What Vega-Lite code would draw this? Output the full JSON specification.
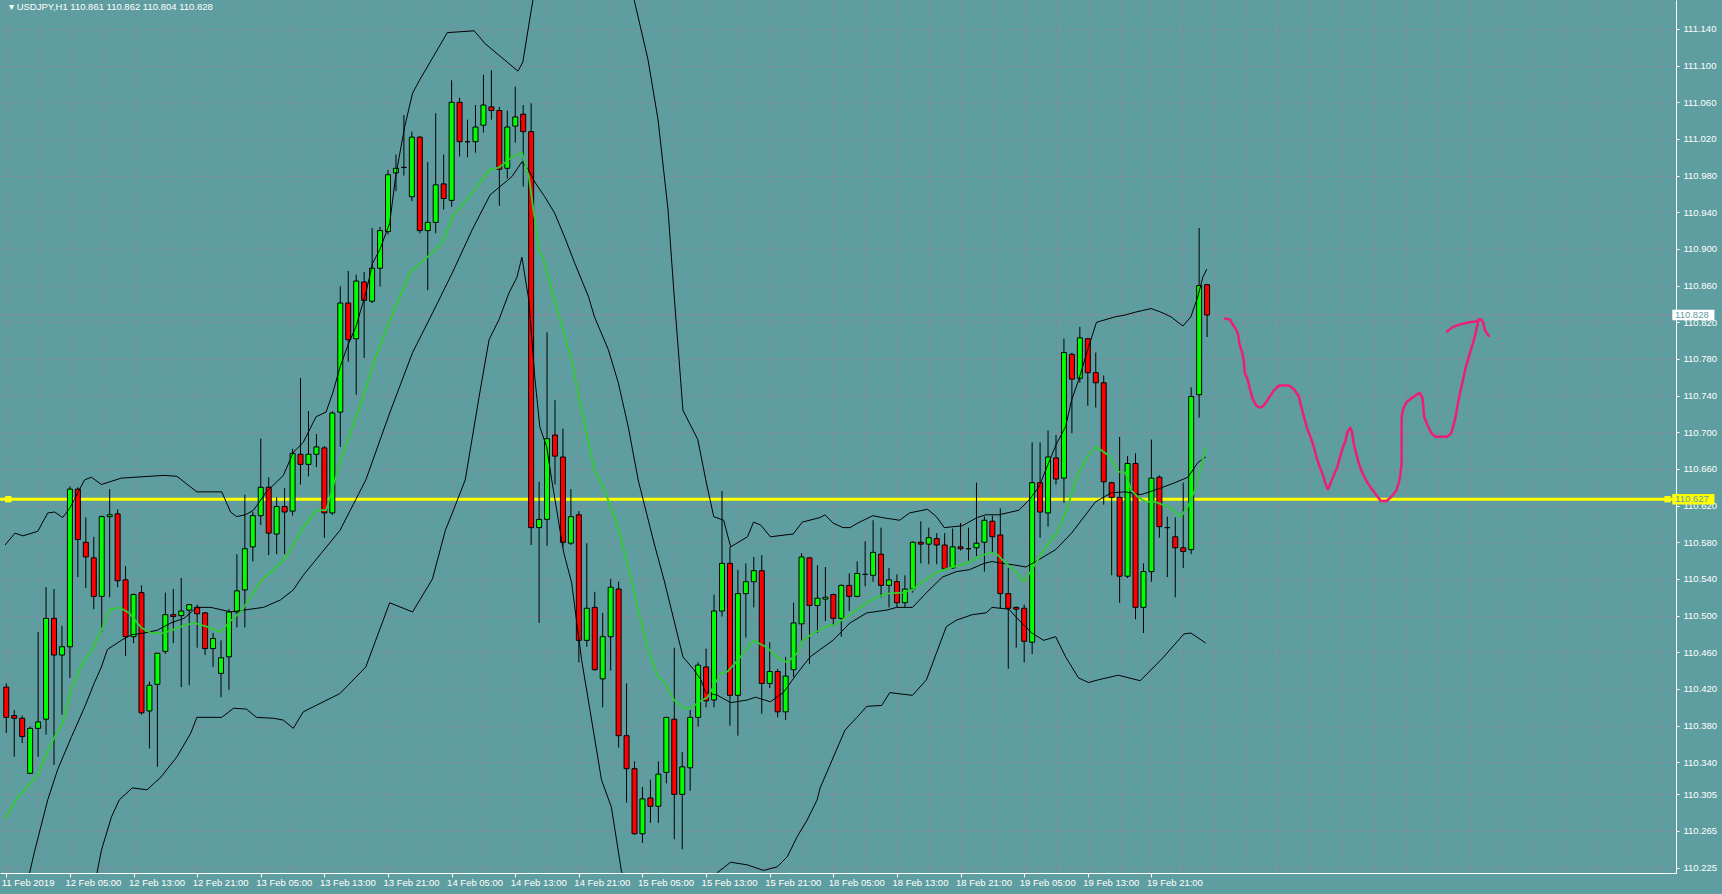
{
"$schema": "https://vega.github.io/schema/vega-lite/v6.json",
"width": 1676, "height": 873,
"autosize": {"type": "none"},
"padding": {"left": 0, "top": 0, "right": 46, "bottom": 21},
"background": "#5F9EA0",
"config": {"view": {"stroke": null}, "axis": {"labelFont": "Liberation Sans", "labelFontSize": 9.5, "labelColor": "#ffffff", "domainColor": "#ffffff", "tickColor": "#ffffff", "gridColor": "#868596", "gridDash": [3, 3], "gridWidth": 1}},
"resolve": {"axis": {"x": "independent", "y": "independent"}},
"datasets": {
"candles": [
{"i":0,"o":110.422,"h":110.426,"l":110.372,"c":110.389},
{"i":1,"o":110.391,"h":110.397,"l":110.346,"c":110.388},
{"i":2,"o":110.388,"h":110.391,"l":110.361,"c":110.368},
{"i":3,"o":110.328,"h":110.379,"l":110.327,"c":110.377},
{"i":4,"o":110.377,"h":110.482,"l":110.346,"c":110.384},
{"i":5,"o":110.387,"h":110.531,"l":110.370,"c":110.497},
{"i":6,"o":110.497,"h":110.529,"l":110.337,"c":110.457},
{"i":7,"o":110.457,"h":110.489,"l":110.392,"c":110.466},
{"i":8,"o":110.466,"h":110.641,"l":110.432,"c":110.638},
{"i":9,"o":110.638,"h":110.640,"l":110.542,"c":110.583},
{"i":10,"o":110.580,"h":110.607,"l":110.530,"c":110.564},
{"i":11,"o":110.563,"h":110.586,"l":110.507,"c":110.521},
{"i":12,"o":110.521,"h":110.609,"l":110.482,"c":110.608},
{"i":13,"o":110.608,"h":110.638,"l":110.520,"c":110.610},
{"i":14,"o":110.611,"h":110.616,"l":110.531,"c":110.538},
{"i":15,"o":110.539,"h":110.554,"l":110.456,"c":110.477},
{"i":16,"o":110.477,"h":110.524,"l":110.470,"c":110.523},
{"i":17,"o":110.525,"h":110.533,"l":110.392,"c":110.394},
{"i":18,"o":110.396,"h":110.428,"l":110.355,"c":110.424},
{"i":19,"o":110.425,"h":110.459,"l":110.335,"c":110.459},
{"i":20,"o":110.461,"h":110.525,"l":110.458,"c":110.501},
{"i":21,"o":110.501,"h":110.529,"l":110.470,"c":110.499},
{"i":22,"o":110.500,"h":110.541,"l":110.422,"c":110.505},
{"i":23,"o":110.506,"h":110.512,"l":110.424,"c":110.512},
{"i":24,"o":110.509,"h":110.512,"l":110.465,"c":110.502},
{"i":25,"o":110.503,"h":110.504,"l":110.457,"c":110.464},
{"i":26,"o":110.464,"h":110.481,"l":110.444,"c":110.475},
{"i":27,"o":110.437,"h":110.473,"l":110.411,"c":110.454},
{"i":28,"o":110.455,"h":110.507,"l":110.419,"c":110.504},
{"i":29,"o":110.504,"h":110.567,"l":110.487,"c":110.527},
{"i":30,"o":110.528,"h":110.632,"l":110.487,"c":110.573},
{"i":31,"o":110.575,"h":110.613,"l":110.559,"c":110.609},
{"i":32,"o":110.609,"h":110.693,"l":110.599,"c":110.640},
{"i":33,"o":110.640,"h":110.651,"l":110.566,"c":110.590},
{"i":34,"o":110.589,"h":110.629,"l":110.567,"c":110.619},
{"i":35,"o":110.619,"h":110.639,"l":110.567,"c":110.613},
{"i":36,"o":110.614,"h":110.682,"l":110.609,"c":110.677},
{"i":37,"o":110.676,"h":110.759,"l":110.643,"c":110.665},
{"i":38,"o":110.665,"h":110.723,"l":110.652,"c":110.676},
{"i":39,"o":110.676,"h":110.698,"l":110.662,"c":110.684},
{"i":40,"o":110.683,"h":110.685,"l":110.585,"c":110.612},
{"i":41,"o":110.612,"h":110.723,"l":110.610,"c":110.721},
{"i":42,"o":110.722,"h":110.859,"l":110.684,"c":110.841},
{"i":43,"o":110.841,"h":110.876,"l":110.777,"c":110.801},
{"i":44,"o":110.802,"h":110.872,"l":110.741,"c":110.865},
{"i":45,"o":110.864,"h":110.875,"l":110.781,"c":110.844},
{"i":46,"o":110.843,"h":110.923,"l":110.841,"c":110.879},
{"i":47,"o":110.879,"h":110.924,"l":110.859,"c":110.920},
{"i":48,"o":110.919,"h":110.986,"l":110.916,"c":110.981},
{"i":49,"o":110.983,"h":111.003,"l":110.963,"c":110.988},
{"i":50,"o":110.989,"h":111.046,"l":110.980,"c":110.989},
{"i":51,"o":110.957,"h":111.028,"l":110.952,"c":111.022},
{"i":52,"o":111.022,"h":111.023,"l":110.917,"c":110.920},
{"i":53,"o":110.920,"h":110.995,"l":110.855,"c":110.929},
{"i":54,"o":110.929,"h":111.048,"l":110.917,"c":110.970},
{"i":55,"o":110.971,"h":111.003,"l":110.943,"c":110.955},
{"i":56,"o":110.953,"h":111.084,"l":110.946,"c":111.060},
{"i":57,"o":111.060,"h":111.065,"l":111.001,"c":111.017},
{"i":58,"o":111.017,"h":111.041,"l":111.000,"c":111.017},
{"i":59,"o":111.017,"h":111.057,"l":111.005,"c":111.033},
{"i":60,"o":111.035,"h":111.090,"l":111.027,"c":111.057},
{"i":61,"o":111.055,"h":111.095,"l":111.041,"c":111.051},
{"i":62,"o":111.051,"h":111.055,"l":110.947,"c":110.987},
{"i":63,"o":110.988,"h":111.051,"l":110.977,"c":111.033},
{"i":64,"o":111.034,"h":111.077,"l":111.016,"c":111.044},
{"i":65,"o":111.047,"h":111.057,"l":110.968,"c":111.028},
{"i":66,"o":111.028,"h":111.059,"l":110.577,"c":110.596},
{"i":67,"o":110.596,"h":110.646,"l":110.492,"c":110.605},
{"i":68,"o":110.605,"h":110.809,"l":110.576,"c":110.693},
{"i":69,"o":110.697,"h":110.735,"l":110.643,"c":110.674},
{"i":70,"o":110.673,"h":110.704,"l":110.575,"c":110.580},
{"i":71,"o":110.579,"h":110.638,"l":110.577,"c":110.608},
{"i":72,"o":110.610,"h":110.614,"l":110.449,"c":110.473},
{"i":73,"o":110.473,"h":110.579,"l":110.466,"c":110.508},
{"i":74,"o":110.509,"h":110.526,"l":110.440,"c":110.441},
{"i":75,"o":110.431,"h":110.503,"l":110.400,"c":110.477},
{"i":76,"o":110.477,"h":110.540,"l":110.440,"c":110.531},
{"i":77,"o":110.529,"h":110.537,"l":110.356,"c":110.369},
{"i":78,"o":110.369,"h":110.426,"l":110.296,"c":110.333},
{"i":79,"o":110.333,"h":110.341,"l":110.261,"c":110.262},
{"i":80,"o":110.262,"h":110.313,"l":110.252,"c":110.300},
{"i":81,"o":110.301,"h":110.321,"l":110.274,"c":110.292},
{"i":82,"o":110.292,"h":110.341,"l":110.274,"c":110.327},
{"i":83,"o":110.329,"h":110.389,"l":110.317,"c":110.389},
{"i":84,"o":110.387,"h":110.465,"l":110.256,"c":110.305},
{"i":85,"o":110.305,"h":110.351,"l":110.245,"c":110.335},
{"i":86,"o":110.334,"h":110.397,"l":110.309,"c":110.389},
{"i":87,"o":110.389,"h":110.449,"l":110.379,"c":110.446},
{"i":88,"o":110.444,"h":110.464,"l":110.400,"c":110.407},
{"i":89,"o":110.408,"h":110.523,"l":110.400,"c":110.505},
{"i":90,"o":110.505,"h":110.636,"l":110.499,"c":110.557},
{"i":91,"o":110.557,"h":110.575,"l":110.380,"c":110.413},
{"i":92,"o":110.413,"h":110.550,"l":110.369,"c":110.524},
{"i":93,"o":110.524,"h":110.557,"l":110.476,"c":110.537},
{"i":94,"o":110.537,"h":110.564,"l":110.509,"c":110.549},
{"i":95,"o":110.549,"h":110.566,"l":110.393,"c":110.426},
{"i":96,"o":110.426,"h":110.471,"l":110.421,"c":110.439},
{"i":97,"o":110.439,"h":110.442,"l":110.389,"c":110.395},
{"i":98,"o":110.395,"h":110.455,"l":110.386,"c":110.434},
{"i":99,"o":110.441,"h":110.514,"l":110.433,"c":110.492},
{"i":100,"o":110.491,"h":110.568,"l":110.473,"c":110.564},
{"i":101,"o":110.563,"h":110.564,"l":110.447,"c":110.511},
{"i":102,"o":110.511,"h":110.555,"l":110.481,"c":110.519},
{"i":103,"o":110.518,"h":110.553,"l":110.494,"c":110.520},
{"i":104,"o":110.523,"h":110.524,"l":110.490,"c":110.497},
{"i":105,"o":110.497,"h":110.534,"l":110.477,"c":110.533},
{"i":106,"o":110.533,"h":110.546,"l":110.505,"c":110.521},
{"i":107,"o":110.521,"h":110.559,"l":110.520,"c":110.546},
{"i":108,"o":110.545,"h":110.581,"l":110.532,"c":110.545},
{"i":109,"o":110.544,"h":110.604,"l":110.537,"c":110.569},
{"i":110,"o":110.567,"h":110.596,"l":110.520,"c":110.533},
{"i":111,"o":110.533,"h":110.552,"l":110.509,"c":110.539},
{"i":112,"o":110.537,"h":110.545,"l":110.509,"c":110.514},
{"i":113,"o":110.514,"h":110.544,"l":110.509,"c":110.529},
{"i":114,"o":110.529,"h":110.581,"l":110.525,"c":110.580},
{"i":115,"o":110.580,"h":110.603,"l":110.557,"c":110.578},
{"i":116,"o":110.578,"h":110.596,"l":110.556,"c":110.585},
{"i":117,"o":110.584,"h":110.590,"l":110.556,"c":110.577},
{"i":118,"o":110.577,"h":110.590,"l":110.550,"c":110.551},
{"i":119,"o":110.552,"h":110.595,"l":110.551,"c":110.575},
{"i":120,"o":110.575,"h":110.601,"l":110.571,"c":110.573},
{"i":121,"o":110.573,"h":110.596,"l":110.560,"c":110.573},
{"i":122,"o":110.574,"h":110.645,"l":110.565,"c":110.579},
{"i":123,"o":110.580,"h":110.608,"l":110.548,"c":110.604},
{"i":124,"o":110.603,"h":110.609,"l":110.569,"c":110.586},
{"i":125,"o":110.588,"h":110.617,"l":110.508,"c":110.524},
{"i":126,"o":110.524,"h":110.552,"l":110.442,"c":110.508},
{"i":127,"o":110.509,"h":110.510,"l":110.465,"c":110.507},
{"i":128,"o":110.508,"h":110.512,"l":110.449,"c":110.472},
{"i":129,"o":110.471,"h":110.689,"l":110.458,"c":110.645},
{"i":130,"o":110.645,"h":110.689,"l":110.585,"c":110.613},
{"i":131,"o":110.612,"h":110.702,"l":110.597,"c":110.673},
{"i":132,"o":110.672,"h":110.697,"l":110.643,"c":110.649},
{"i":133,"o":110.650,"h":110.802,"l":110.623,"c":110.787},
{"i":134,"o":110.785,"h":110.787,"l":110.699,"c":110.758},
{"i":135,"o":110.759,"h":110.815,"l":110.754,"c":110.803},
{"i":136,"o":110.802,"h":110.803,"l":110.729,"c":110.765},
{"i":137,"o":110.765,"h":110.787,"l":110.727,"c":110.754},
{"i":138,"o":110.754,"h":110.762,"l":110.621,"c":110.646},
{"i":139,"o":110.645,"h":110.646,"l":110.544,"c":110.629},
{"i":140,"o":110.629,"h":110.695,"l":110.514,"c":110.543},
{"i":141,"o":110.543,"h":110.674,"l":110.541,"c":110.666},
{"i":142,"o":110.666,"h":110.677,"l":110.496,"c":110.509},
{"i":143,"o":110.509,"h":110.557,"l":110.481,"c":110.548},
{"i":144,"o":110.548,"h":110.692,"l":110.537,"c":110.650},
{"i":145,"o":110.651,"h":110.653,"l":110.585,"c":110.597},
{"i":146,"o":110.596,"h":110.608,"l":110.542,"c":110.596},
{"i":147,"o":110.586,"h":110.607,"l":110.520,"c":110.574},
{"i":148,"o":110.574,"h":110.645,"l":110.552,"c":110.570},
{"i":149,"o":110.572,"h":110.749,"l":110.567,"c":110.739},
{"i":150,"o":110.741,"h":110.923,"l":110.716,"c":110.860},
{"i":151,"o":110.861,"h":110.862,"l":110.804,"c":110.828}
],
"upper": [
{"i":-0.16,"v":110.577},{"i":1.09,"v":110.590},{"i":2.09,"v":110.587},{"i":3.96,"v":110.592},{"i":5.21,"v":110.612},{"i":6.09,"v":110.613},{"i":7.09,"v":110.607},{"i":7.96,"v":110.617},{"i":9.84,"v":110.648},{"i":10.71,"v":110.651},{"i":11.96,"v":110.643},{"i":14.46,"v":110.650},{"i":19.84,"v":110.653},{"i":21.46,"v":110.652},{"i":23.96,"v":110.635},{"i":27.09,"v":110.635},{"i":28.21,"v":110.613},{"i":28.96,"v":110.608},{"i":30.09,"v":110.610},{"i":31.09,"v":110.615},{"i":32.71,"v":110.635},{"i":34.84,"v":110.653},{"i":36.09,"v":110.678},{"i":37.34,"v":110.689},{"i":38.96,"v":110.717},{"i":40.21,"v":110.722},{"i":41.09,"v":110.744},{"i":41.96,"v":110.771},{"i":42.96,"v":110.795},{"i":43.96,"v":110.815},{"i":45.21,"v":110.852},{"i":46.09,"v":110.885},{"i":46.96,"v":110.899},{"i":48.21,"v":110.928},{"i":48.96,"v":110.979},{"i":50.09,"v":111.033},{"i":51.09,"v":111.070},{"i":51.96,"v":111.084},{"i":55.46,"v":111.136},{"i":58.84,"v":111.138},{"i":60.21,"v":111.124},{"i":64.34,"v":111.094},{"i":64.96,"v":111.104},{"i":66,"v":111.16},{"i":67,"v":111.21},{"i":68,"v":111.224},{"i":70,"v":111.26},{"i":72,"v":111.28},{"i":75,"v":111.29},{"i":77,"v":111.25},{"i":79,"v":111.17},{"i":80.71,"v":111.106},{"i":81.96,"v":111.041},{"i":83.21,"v":110.943},{"i":83.96,"v":110.852},{"i":85.09,"v":110.724},{"i":86.96,"v":110.692},{"i":87.96,"v":110.648},{"i":88.96,"v":110.608},{"i":90.21,"v":110.604},{"i":91.09,"v":110.575},{"i":93.21,"v":110.586},{"i":93.96,"v":110.602},{"i":94.84,"v":110.599},{"i":96.09,"v":110.586},{"i":98.96,"v":110.589},{"i":100.09,"v":110.602},{"i":102.34,"v":110.607},{"i":102.96,"v":110.610},{"i":103.96,"v":110.601},{"i":105.21,"v":110.596},{"i":106.09,"v":110.596},{"i":107.09,"v":110.601},{"i":108.96,"v":110.609},{"i":110.09,"v":110.607},{"i":112.34,"v":110.604},{"i":113.59,"v":110.612},{"i":115.84,"v":110.616},{"i":116.96,"v":110.608},{"i":117.96,"v":110.596},{"i":120.21,"v":110.598},{"i":122.09,"v":110.607},{"i":123.21,"v":110.610},{"i":124.84,"v":110.610},{"i":127.34,"v":110.615},{"i":128.59,"v":110.626},{"i":129.84,"v":110.640},{"i":131.09,"v":110.667},{"i":132.09,"v":110.688},{"i":133.21,"v":110.706},{"i":133.96,"v":110.735},{"i":134.84,"v":110.757},{"i":136.09,"v":110.793},{"i":137.09,"v":110.820},{"i":139.46,"v":110.826},{"i":140.71,"v":110.828},{"i":141.96,"v":110.831},{"i":143.96,"v":110.835},{"i":145.21,"v":110.831},{"i":146.46,"v":110.826},{"i":147.34,"v":110.820},{"i":147.96,"v":110.816},{"i":148.96,"v":110.826},{"i":149.84,"v":110.848},{"i":150.46,"v":110.869},{"i":150.96,"v":110.878}
],
"middle": [
{"i":0,"v":110.11},{"i":3.59,"v":110.244},{"i":5.21,"v":110.299},{"i":6.46,"v":110.332},{"i":8.21,"v":110.368},{"i":9.84,"v":110.400},{"i":11.09,"v":110.427},{"i":11.96,"v":110.444},{"i":12.71,"v":110.463},{"i":14.46,"v":110.473},{"i":15.71,"v":110.479},{"i":17.34,"v":110.481},{"i":18.96,"v":110.484},{"i":20.71,"v":110.492},{"i":22.34,"v":110.497},{"i":23.96,"v":110.509},{"i":25.71,"v":110.509},{"i":28.21,"v":110.504},{"i":29.84,"v":110.506},{"i":32.34,"v":110.509},{"i":34.46,"v":110.517},{"i":36.09,"v":110.528},{"i":37.34,"v":110.544},{"i":41.96,"v":110.593},{"i":45.21,"v":110.648},{"i":48.21,"v":110.721},{"i":51.09,"v":110.787},{"i":53.59,"v":110.830},{"i":56.09,"v":110.874},{"i":58.59,"v":110.921},{"i":60.84,"v":110.959},{"i":63.59,"v":110.979},{"i":64.84,"v":110.995},{"i":65.71,"v":110.986},{"i":66.46,"v":110.973},{"i":67.71,"v":110.957},{"i":68.96,"v":110.939},{"i":70.21,"v":110.913},{"i":71.46,"v":110.885},{"i":73.21,"v":110.848},{"i":73.96,"v":110.826},{"i":75.71,"v":110.790},{"i":76.96,"v":110.754},{"i":78.21,"v":110.706},{"i":79.46,"v":110.648},{"i":81.46,"v":110.579},{"i":82.71,"v":110.539},{"i":83.96,"v":110.495},{"i":85.09,"v":110.455},{"i":86.46,"v":110.441},{"i":87.34,"v":110.430},{"i":87.96,"v":110.416},{"i":89.46,"v":110.413},{"i":91.09,"v":110.405},{"i":93.21,"v":110.408},{"i":94.21,"v":110.411},{"i":96.09,"v":110.406},{"i":97.71,"v":110.416},{"i":99.46,"v":110.437},{"i":101.09,"v":110.455},{"i":102.34,"v":110.463},{"i":103.96,"v":110.473},{"i":106.09,"v":110.492},{"i":108.21,"v":110.503},{"i":110.71,"v":110.506},{"i":111.96,"v":110.509},{"i":113.96,"v":110.509},{"i":115.71,"v":110.525},{"i":117.71,"v":110.542},{"i":119.46,"v":110.548},{"i":121.09,"v":110.550},{"i":122.96,"v":110.557},{"i":123.96,"v":110.559},{"i":125.21,"v":110.557},{"i":126.96,"v":110.555},{"i":128.21,"v":110.553},{"i":129.84,"v":110.561},{"i":131.96,"v":110.572},{"i":133.96,"v":110.590},{"i":136.96,"v":110.624},{"i":138.96,"v":110.634},{"i":140.71,"v":110.635},{"i":142.71,"v":110.632},{"i":144.46,"v":110.637},{"i":146.96,"v":110.645},{"i":148.59,"v":110.651},{"i":149.84,"v":110.667},{"i":150.84,"v":110.673}
],
"lower": [
{"i":0,"v":109.64},{"i":3.59,"v":109.90},{"i":8.21,"v":110.12},{"i":9.84,"v":110.15},{"i":11.96,"v":110.244},{"i":13.21,"v":110.280},{"i":14.21,"v":110.299},{"i":15.84,"v":110.312},{"i":17.71,"v":110.310},{"i":19.46,"v":110.324},{"i":21.46,"v":110.346},{"i":23.21,"v":110.372},{"i":23.96,"v":110.389},{"i":25.84,"v":110.389},{"i":27.09,"v":110.389},{"i":28.59,"v":110.399},{"i":30.21,"v":110.398},{"i":31.46,"v":110.389},{"i":33.59,"v":110.388},{"i":34.84,"v":110.386},{"i":36.09,"v":110.377},{"i":37.34,"v":110.395},{"i":41.96,"v":110.415},{"i":45.21,"v":110.444},{"i":48.21,"v":110.514},{"i":51.09,"v":110.504},{"i":53.59,"v":110.54},{"i":55.21,"v":110.593},{"i":56.09,"v":110.612},{"i":57.71,"v":110.648},{"i":59.46,"v":110.739},{"i":60.71,"v":110.801},{"i":61.96,"v":110.823},{"i":63.21,"v":110.852},{"i":64.21,"v":110.869},{"i":64.84,"v":110.891},{"i":65.71,"v":110.844},{"i":66.46,"v":110.760},{"i":67.09,"v":110.706},{"i":67.96,"v":110.684},{"i":68.59,"v":110.648},{"i":70.09,"v":110.569},{"i":71.09,"v":110.536},{"i":72.34,"v":110.452},{"i":73.34,"v":110.400},{"i":74.84,"v":110.321},{"i":76.09,"v":110.291},{"i":77.34,"v":110.222},{"i":79.46,"v":110.156},{"i":81.96,"v":110.085},{"i":83.96,"v":110.138},{"i":85.09,"v":110.186},{"i":86.96,"v":110.180},{"i":87.96,"v":110.184},{"i":89.46,"v":110.220},{"i":90.21,"v":110.225},{"i":91.09,"v":110.231},{"i":93.21,"v":110.228},{"i":95.21,"v":110.222},{"i":96.96,"v":110.226},{"i":98.21,"v":110.237},{"i":99.46,"v":110.259},{"i":100.71,"v":110.277},{"i":101.96,"v":110.299},{"i":102.34,"v":110.312},{"i":105.46,"v":110.375},{"i":106.96,"v":110.389},{"i":108.21,"v":110.401},{"i":110.09,"v":110.402},{"i":111.09,"v":110.416},{"i":113.96,"v":110.413},{"i":115.71,"v":110.430},{"i":116.96,"v":110.459},{"i":118.21,"v":110.488},{"i":119.46,"v":110.495},{"i":121.46,"v":110.501},{"i":123.21,"v":110.503},{"i":123.96,"v":110.509},{"i":126.09,"v":110.507},{"i":127.34,"v":110.495},{"i":128.96,"v":110.481},{"i":130.46,"v":110.473},{"i":131.96,"v":110.477},{"i":133.21,"v":110.455},{"i":134.84,"v":110.432},{"i":136.09,"v":110.427},{"i":137.34,"v":110.430},{"i":139.84,"v":110.435},{"i":142.59,"v":110.429},{"i":145.34,"v":110.453},{"i":148.09,"v":110.480},{"i":148.96,"v":110.481},{"i":150.84,"v":110.470}
],
"ma": [
{"i":-0.16,"v":110.279},{"i":1.46,"v":110.302},{"i":3.96,"v":110.326},{"i":5.09,"v":110.350},{"i":6.09,"v":110.368},{"i":7.09,"v":110.383},{"i":8.21,"v":110.421},{"i":9.59,"v":110.448},{"i":10.71,"v":110.462},{"i":11.96,"v":110.484},{"i":12.96,"v":110.506},{"i":14.21,"v":110.509},{"i":15.46,"v":110.503},{"i":16.96,"v":110.487},{"i":18.21,"v":110.481},{"i":19.84,"v":110.481},{"i":21.96,"v":110.488},{"i":23.59,"v":110.492},{"i":25.21,"v":110.488},{"i":26.96,"v":110.482},{"i":27.96,"v":110.492},{"i":29.46,"v":110.504},{"i":30.71,"v":110.520},{"i":31.96,"v":110.537},{"i":33.59,"v":110.550},{"i":35.21,"v":110.564},{"i":36.46,"v":110.583},{"i":37.34,"v":110.596},{"i":38.96,"v":110.615},{"i":40.21,"v":110.615},{"i":42.34,"v":110.677},{"i":44.46,"v":110.728},{"i":46.46,"v":110.782},{"i":48.59,"v":110.830},{"i":50.84,"v":110.875},{"i":52.59,"v":110.888},{"i":54.84,"v":110.907},{"i":56.09,"v":110.935},{"i":58.59,"v":110.961},{"i":60.71,"v":110.986},{"i":61.96,"v":110.989},{"i":63.59,"v":111.000},{"i":64.84,"v":111.005},{"i":65.71,"v":110.979},{"i":66.46,"v":110.932},{"i":66.96,"v":110.899},{"i":67.59,"v":110.888},{"i":68.96,"v":110.844},{"i":71.09,"v":110.779},{"i":72.34,"v":110.724},{"i":73.96,"v":110.659},{"i":75.21,"v":110.637},{"i":76.46,"v":110.608},{"i":77.34,"v":110.583},{"i":78.59,"v":110.539},{"i":79.46,"v":110.506},{"i":80.71,"v":110.463},{"i":81.96,"v":110.433},{"i":82.71,"v":110.428},{"i":83.96,"v":110.408},{"i":85.09,"v":110.399},{"i":86.09,"v":110.399},{"i":86.96,"v":110.405},{"i":88.21,"v":110.411},{"i":89.84,"v":110.437},{"i":90.71,"v":110.439},{"i":92.34,"v":110.455},{"i":93.96,"v":110.473},{"i":95.71,"v":110.465},{"i":96.96,"v":110.454},{"i":98.21,"v":110.449},{"i":99.46,"v":110.459},{"i":100.21,"v":110.473},{"i":101.46,"v":110.481},{"i":102.34,"v":110.484},{"i":103.21,"v":110.489},{"i":103.96,"v":110.489},{"i":106.09,"v":110.501},{"i":108.21,"v":110.514},{"i":109.46,"v":110.520},{"i":110.71,"v":110.524},{"i":112.71,"v":110.525},{"i":113.96,"v":110.528},{"i":115.21,"v":110.537},{"i":116.96,"v":110.547},{"i":118.21,"v":110.551},{"i":120.71,"v":110.557},{"i":122.34,"v":110.564},{"i":123.59,"v":110.569},{"i":124.59,"v":110.567},{"i":125.71,"v":110.557},{"i":126.96,"v":110.548},{"i":127.96,"v":110.537},{"i":128.96,"v":110.550},{"i":130.71,"v":110.575},{"i":132.09,"v":110.590},{"i":133.21,"v":110.612},{"i":134.84,"v":110.656},{"i":136.09,"v":110.675},{"i":137.09,"v":110.684},{"i":138.59,"v":110.675},{"i":139.84,"v":110.657},{"i":140.71,"v":110.656},{"i":141.46,"v":110.637},{"i":142.34,"v":110.629},{"i":143.34,"v":110.624},{"i":144.46,"v":110.624},{"i":146.09,"v":110.619},{"i":147.71,"v":110.608},{"i":148.59,"v":110.619},{"i":149.46,"v":110.637},{"i":150.21,"v":110.662},{"i":150.84,"v":110.683}
],
"pink": [
{"seg":"a","k":0,"i":153.25,"v":110.824},{"seg":"a","k":1,"i":153.88,"v":110.823},{"seg":"a","k":2,"i":154.13,"v":110.819},{"seg":"a","k":3,"i":154.66,"v":110.812},{"seg":"a","k":4,"i":154.93,"v":110.806},{"seg":"a","k":5,"i":155.05,"v":110.797},{"seg":"a","k":6,"i":155.38,"v":110.788},{"seg":"a","k":7,"i":155.59,"v":110.779},{"seg":"a","k":8,"i":155.76,"v":110.764},{"seg":"a","k":9,"i":156.09,"v":110.758},{"seg":"a","k":10,"i":156.43,"v":110.746},{"seg":"a","k":11,"i":156.71,"v":110.737},{"seg":"a","k":12,"i":157.13,"v":110.730},{"seg":"a","k":13,"i":157.55,"v":110.727},{"seg":"a","k":14,"i":157.96,"v":110.728},{"seg":"a","k":15,"i":158.38,"v":110.732},{"seg":"a","k":16,"i":158.80,"v":110.738},{"seg":"a","k":17,"i":159.43,"v":110.746},{"seg":"a","k":18,"i":160.05,"v":110.751},{"seg":"a","k":19,"i":161.30,"v":110.751},{"seg":"a","k":20,"i":161.93,"v":110.747},{"seg":"a","k":21,"i":162.55,"v":110.739},{"seg":"a","k":22,"i":162.84,"v":110.728},{"seg":"a","k":23,"i":163.18,"v":110.717},{"seg":"a","k":24,"i":163.59,"v":110.704},{"seg":"a","k":25,"i":164.00,"v":110.695},{"seg":"a","k":26,"i":164.43,"v":110.684},{"seg":"a","k":27,"i":164.75,"v":110.673},{"seg":"a","k":28,"i":165.18,"v":110.662},{"seg":"a","k":29,"i":165.59,"v":110.653},{"seg":"a","k":30,"i":165.88,"v":110.644},{"seg":"a","k":31,"i":166.18,"v":110.638},{"seg":"a","k":32,"i":166.50,"v":110.644},{"seg":"a","k":33,"i":166.93,"v":110.653},{"seg":"a","k":34,"i":167.34,"v":110.661},{"seg":"a","k":35,"i":167.68,"v":110.672},{"seg":"a","k":36,"i":168.05,"v":110.683},{"seg":"a","k":37,"i":168.38,"v":110.690},{"seg":"a","k":38,"i":168.68,"v":110.701},{"seg":"a","k":39,"i":169.00,"v":110.705},{"seg":"a","k":40,"i":169.21,"v":110.701},{"seg":"a","k":41,"i":169.43,"v":110.688},{"seg":"a","k":42,"i":169.75,"v":110.677},{"seg":"a","k":43,"i":170.05,"v":110.667},{"seg":"a","k":44,"i":170.46,"v":110.657},{"seg":"a","k":45,"i":171.09,"v":110.646},{"seg":"a","k":46,"i":171.71,"v":110.638},{"seg":"a","k":47,"i":172.34,"v":110.631},{"seg":"a","k":48,"i":172.84,"v":110.625},{"seg":"a","k":49,"i":173.59,"v":110.625},{"seg":"a","k":50,"i":174.21,"v":110.630},{"seg":"a","k":51,"i":174.84,"v":110.637},{"seg":"a","k":52,"i":175.25,"v":110.650},{"seg":"a","k":53,"i":175.46,"v":110.666},{"seg":"a","k":54,"i":175.47,"v":110.717},{"seg":"a","k":55,"i":175.68,"v":110.726},{"seg":"a","k":56,"i":176.09,"v":110.733},{"seg":"a","k":57,"i":176.71,"v":110.737},{"seg":"a","k":58,"i":177.34,"v":110.741},{"seg":"a","k":59,"i":177.75,"v":110.743},{"seg":"a","k":60,"i":178.09,"v":110.737},{"seg":"a","k":61,"i":178.30,"v":110.717},{"seg":"a","k":62,"i":178.71,"v":110.708},{"seg":"a","k":63,"i":179.21,"v":110.699},{"seg":"a","k":64,"i":179.75,"v":110.695},{"seg":"a","k":65,"i":181.18,"v":110.695},{"seg":"a","k":66,"i":181.71,"v":110.699},{"seg":"a","k":67,"i":182.00,"v":110.708},{"seg":"a","k":68,"i":182.25,"v":110.717},{"seg":"a","k":69,"i":182.55,"v":110.732},{"seg":"a","k":70,"i":182.88,"v":110.746},{"seg":"a","k":71,"i":183.18,"v":110.757},{"seg":"a","k":72,"i":183.50,"v":110.770},{"seg":"a","k":73,"i":183.80,"v":110.779},{"seg":"a","k":74,"i":184.09,"v":110.788},{"seg":"a","k":75,"i":184.43,"v":110.797},{"seg":"a","k":76,"i":184.71,"v":110.806},{"seg":"a","k":77,"i":184.93,"v":110.815},{"seg":"a","k":78,"i":185.13,"v":110.823},{"seg":"a","k":79,"i":185.46,"v":110.823},{"seg":"a","k":80,"i":185.75,"v":110.819},{"seg":"a","k":81,"i":185.92,"v":110.812},{"seg":"a","k":82,"i":186.18,"v":110.808},{"seg":"a","k":83,"i":186.43,"v":110.805},
{"seg":"b","k":0,"i":181.18,"v":110.810},{"seg":"b","k":1,"i":181.93,"v":110.815},{"seg":"b","k":2,"i":182.96,"v":110.818},{"seg":"b","k":3,"i":184.00,"v":110.820},{"seg":"b","k":4,"i":184.84,"v":110.821},{"seg":"b","k":5,"i":185.17,"v":110.823}
]
},
"layer": [
{"data": {"values": [{}]}, "mark": {"type": "rule", "color": "#8a8c9e", "strokeWidth": 1},
 "encoding": {"y": {"datum": 110.828, "type": "quantitative", "scale": {"domain": [110.2192, 111.1716], "nice": false, "zero": false}, "axis": null}}},
{"data": {"values": [{}]}, "mark": {"type": "rule", "color": "#ffff00", "strokeWidth": 3},
 "encoding": {"y": {"datum": 110.627, "type": "quantitative", "scale": {"domain": [110.2192, 111.1716], "nice": false, "zero": false}, "axis": null}}},
{"data": {"name": "candles"}, "mark": {"type": "rule", "color": "#000000", "strokeWidth": 1},
 "encoding": {
  "x": {"field": "i", "type": "quantitative", "scale": {"domain": [-0.1625, 209.3375], "nice": false, "zero": false},
   "axis": {"orient": "bottom", "title": null, "values": [0,4,8,12,16,20,24,28,32,36,40,44,48,52,56,60,64,68,72,76,80,84,88,92,96,100,104,108,112,116,120,124,128,132,136,140,144,148,152,156,160,164,168,172,176,180,184,188,192,196,200,204,208],
    "grid": true, "domain": true, "ticks": true, "tickSize": 4,
    "tickOpacity": {"condition": {"test": "datum.value % 8 === 0 && datum.value <= 144", "value": 1}, "value": 0},
    "labelExpr": "datum.value % 8 === 0 && datum.value <= 144 ? ['11 Feb 2019','12 Feb 05:00','12 Feb 13:00','12 Feb 21:00','13 Feb 05:00','13 Feb 13:00','13 Feb 21:00','14 Feb 05:00','14 Feb 13:00','14 Feb 21:00','15 Feb 05:00','15 Feb 13:00','15 Feb 21:00','18 Feb 05:00','18 Feb 13:00','18 Feb 21:00','19 Feb 05:00','19 Feb 13:00','19 Feb 21:00'][datum.value / 8] : ''",
    "labelAlign": "left", "labelBaseline": "top", "labelOffset": -5, "labelPadding": 0, "labelFlush": false, "labelOverlap": false, "labelBound": false}},
  "y": {"field": "l", "type": "quantitative", "scale": {"domain": [110.2192, 111.1716], "nice": false, "zero": false},
   "axis": {"orient": "right", "title": null, "values": [111.14,111.1,111.06,111.02,110.98,110.94,110.9,110.86,110.82,110.78,110.74,110.7,110.66,110.62,110.58,110.54,110.5,110.46,110.42,110.38,110.34,110.3051,110.2651,110.2251],
    "format": ".3f", "grid": true, "domain": true, "tickSize": 3, "labelPadding": 4, "labelOverlap": false, "labelBound": false, "labelFlush": false}},
  "y2": {"field": "h"}}},
{"data": {"name": "candles"}, "mark": {"type": "bar", "size": 5, "stroke": "#000000", "strokeWidth": 1},
 "encoding": {
  "x": {"field": "i", "type": "quantitative", "scale": {"domain": [-0.1625, 209.3375], "nice": false, "zero": false}, "axis": null},
  "y": {"field": "o", "type": "quantitative", "scale": {"domain": [110.2192, 111.1716], "nice": false, "zero": false}, "axis": null},
  "y2": {"field": "c"},
  "fill": {"condition": [{"test": "datum.c > datum.o", "value": "#00ff00"}, {"test": "datum.c < datum.o", "value": "#ff0000"}], "value": "#000000"}}},
{"data": {"name": "upper"}, "mark": {"type": "line", "color": "#000000", "strokeWidth": 1, "clip": true},
 "encoding": {"x": {"field": "i", "type": "quantitative", "scale": {"domain": [-0.1625, 209.3375], "nice": false, "zero": false}, "axis": null},
  "y": {"field": "v", "type": "quantitative", "scale": {"domain": [110.2192, 111.1716], "nice": false, "zero": false}, "axis": null}}},
{"data": {"name": "middle"}, "mark": {"type": "line", "color": "#000000", "strokeWidth": 1, "clip": true},
 "encoding": {"x": {"field": "i", "type": "quantitative", "scale": {"domain": [-0.1625, 209.3375], "nice": false, "zero": false}, "axis": null},
  "y": {"field": "v", "type": "quantitative", "scale": {"domain": [110.2192, 111.1716], "nice": false, "zero": false}, "axis": null}}},
{"data": {"name": "lower"}, "mark": {"type": "line", "color": "#000000", "strokeWidth": 1, "clip": true},
 "encoding": {"x": {"field": "i", "type": "quantitative", "scale": {"domain": [-0.1625, 209.3375], "nice": false, "zero": false}, "axis": null},
  "y": {"field": "v", "type": "quantitative", "scale": {"domain": [110.2192, 111.1716], "nice": false, "zero": false}, "axis": null}}},
{"data": {"name": "ma"}, "mark": {"type": "line", "color": "#32cd32", "strokeWidth": 1.8, "clip": true},
 "encoding": {"x": {"field": "i", "type": "quantitative", "scale": {"domain": [-0.1625, 209.3375], "nice": false, "zero": false}, "axis": null},
  "y": {"field": "v", "type": "quantitative", "scale": {"domain": [110.2192, 111.1716], "nice": false, "zero": false}, "axis": null}}},
{"data": {"name": "pink"}, "mark": {"type": "line", "color": "#ee1d7b", "strokeWidth": 2.5, "clip": true, "strokeJoin": "round", "strokeCap": "round"},
 "encoding": {"x": {"field": "i", "type": "quantitative", "scale": {"domain": [-0.1625, 209.3375], "nice": false, "zero": false}, "axis": null},
  "y": {"field": "v", "type": "quantitative", "scale": {"domain": [110.2192, 111.1716], "nice": false, "zero": false}, "axis": null},
  "detail": {"field": "seg"}, "order": {"field": "k"}}},
{"data": {"values": [{}]}, "mark": {"type": "point", "shape": "square", "filled": true, "size": 40, "color": "#ffff00", "opacity": 1},
 "encoding": {"x": {"datum": 0.25, "type": "quantitative", "scale": {"domain": [-0.1625, 209.3375], "nice": false, "zero": false}, "axis": null},
  "y": {"datum": 110.627, "type": "quantitative", "scale": {"domain": [110.2192, 111.1716], "nice": false, "zero": false}, "axis": null}}},
{"data": {"values": [{}]}, "mark": {"type": "point", "shape": "square", "filled": true, "size": 40, "color": "#ffff00", "opacity": 1},
 "encoding": {"x": {"datum": 208.9, "type": "quantitative", "scale": {"domain": [-0.1625, 209.3375], "nice": false, "zero": false}, "axis": null},
  "y": {"datum": 110.627, "type": "quantitative", "scale": {"domain": [110.2192, 111.1716], "nice": false, "zero": false}, "axis": null}}},
{"data": {"values": [{}]}, "mark": {"type": "rect", "color": "#ffffff"},
 "encoding": {"x": {"datum": 209.5, "type": "quantitative", "scale": {"domain": [-0.1625, 209.3375], "nice": false, "zero": false}, "axis": null}, "x2": {"datum": 214.8},
  "y": {"datum": 110.8337, "type": "quantitative", "scale": {"domain": [110.2192, 111.1716], "nice": false, "zero": false}, "axis": null}, "y2": {"datum": 110.8221}}},
{"data": {"values": [{}]}, "mark": {"type": "rect", "color": "#ffff00"},
 "encoding": {"x": {"datum": 209.5, "type": "quantitative", "scale": {"domain": [-0.1625, 209.3375], "nice": false, "zero": false}, "axis": null}, "x2": {"datum": 214.8},
  "y": {"datum": 110.6328, "type": "quantitative", "scale": {"domain": [110.2192, 111.1716], "nice": false, "zero": false}, "axis": null}, "y2": {"datum": 110.6212}}},
{"data": {"values": [{}]}, "mark": {"type": "text", "text": "110.828", "align": "left", "baseline": "middle", "font": "Liberation Sans", "fontSize": 9.5, "color": "#5f9ea0"},
 "encoding": {"x": {"datum": 209.85, "type": "quantitative", "scale": {"domain": [-0.1625, 209.3375], "nice": false, "zero": false}, "axis": null},
  "y": {"datum": 110.828, "type": "quantitative", "scale": {"domain": [110.2192, 111.1716], "nice": false, "zero": false}, "axis": null}}},
{"data": {"values": [{}]}, "mark": {"type": "text", "text": "110.627", "align": "left", "baseline": "middle", "font": "Liberation Sans", "fontSize": 9.5, "color": "#5f9ea0"},
 "encoding": {"x": {"datum": 209.85, "type": "quantitative", "scale": {"domain": [-0.1625, 209.3375], "nice": false, "zero": false}, "axis": null},
  "y": {"datum": 110.627, "type": "quantitative", "scale": {"domain": [110.2192, 111.1716], "nice": false, "zero": false}, "axis": null}}},
{"data": {"values": [{}]}, "mark": {"type": "text", "text": "▾  USDJPY,H1  110.861 110.862 110.804 110.828", "align": "left", "baseline": "middle", "font": "Liberation Sans", "fontSize": 9.5, "color": "#ffffff"},
 "encoding": {"x": {"datum": 0.34, "type": "quantitative", "scale": {"domain": [-0.1625, 209.3375], "nice": false, "zero": false}, "axis": null},
  "y": {"datum": 111.164, "type": "quantitative", "scale": {"domain": [110.2192, 111.1716], "nice": false, "zero": false}, "axis": null}}}
]
}
